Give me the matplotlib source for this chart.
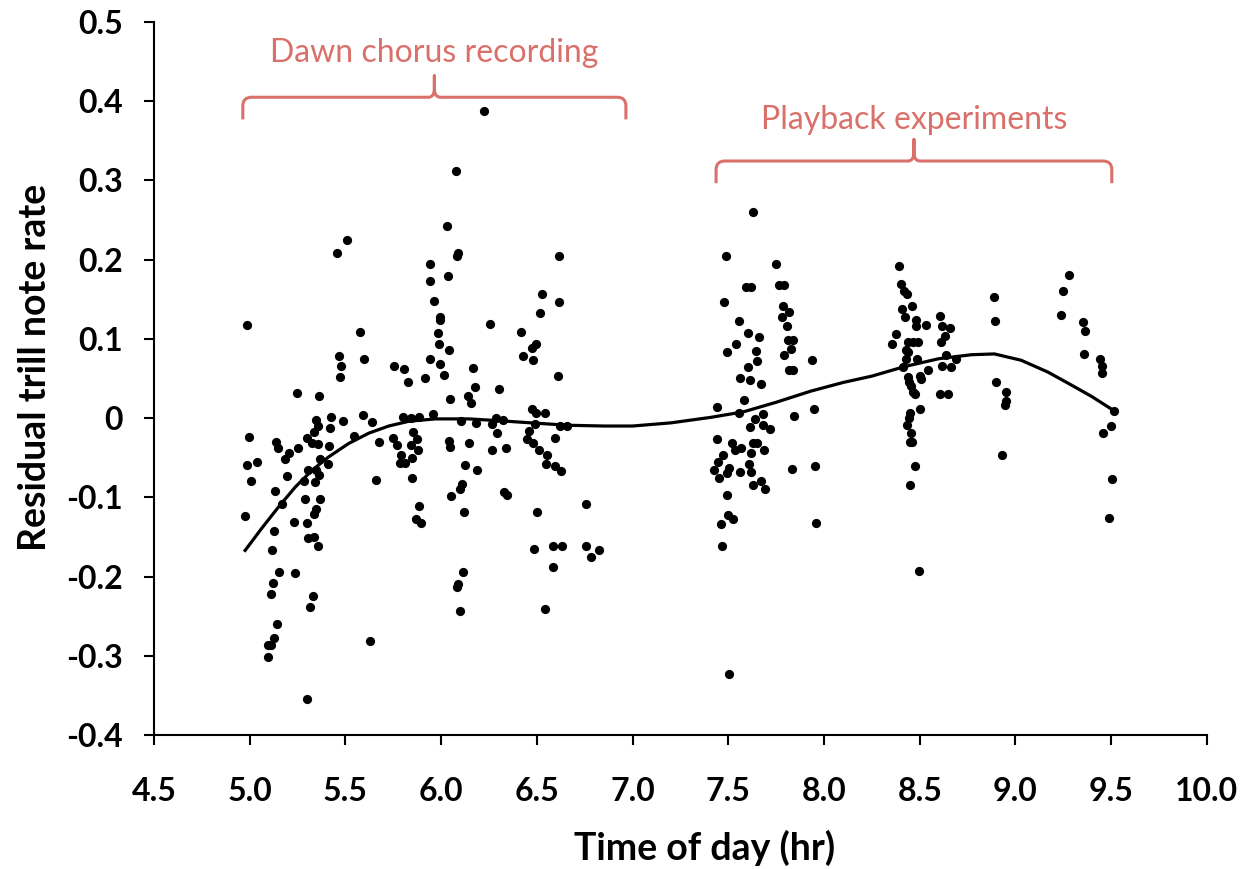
import matplotlib
matplotlib.use("Agg")
import matplotlib.pyplot as plt
from matplotlib.path import Path
from matplotlib.patches import PathPatch

# --- Data ---
# Dawn chorus recordings
DAWN_TIME = [
    5.508, 5.456, 4.985, 5.574, 5.465, 5.595, 5.478, 5.473, 5.752, 5.808,
    5.827, 5.247, 5.360, 5.348, 5.424, 5.487, 5.592, 5.639, 5.356, 5.418,
    5.801, 5.840, 5.883, 4.994, 5.137, 5.147, 5.299, 5.334, 5.325, 5.355,
    5.252, 5.416, 5.543, 5.674, 5.747, 5.770, 5.853, 5.875, 5.840, 5.880,
    5.203, 5.186, 5.365, 4.985, 5.037, 5.407, 5.791, 5.784, 5.813, 5.848,
    5.302, 5.348, 5.194, 5.360, 5.006, 5.285, 5.339, 5.660, 5.848, 5.130,
    5.168, 5.287, 5.365, 5.348, 5.337, 5.883, 4.976, 5.871, 5.897, 5.229,
    5.299, 5.128, 5.304, 5.334, 5.355, 5.117, 5.154, 5.238, 5.121, 5.112,
    5.329, 5.316, 5.627, 5.142, 5.125, 5.098, 5.112, 5.095, 5.299,
    6.223, 6.077, 6.032, 6.089, 6.084, 6.614, 5.944, 6.035, 5.941, 5.965,
    6.525, 6.618, 5.993, 5.993, 6.255, 5.983, 6.515, 6.415, 5.990, 6.040,
    6.494, 6.476, 6.429, 6.482, 5.944,
    5.993, 5.916, 6.014, 6.166, 6.611, 6.175, 6.302, 6.044, 6.141, 6.154,
    6.476, 5.957, 6.497, 6.541, 6.101, 6.180, 6.267, 6.284, 6.325, 6.489,
    6.621, 6.656, 6.290, 6.461, 6.040, 6.045, 6.147, 6.447, 6.480, 6.597,
    6.267, 6.337, 6.511, 6.555, 6.122, 6.189, 6.548, 6.597, 6.626, 6.110,
    6.098, 6.049, 6.328, 6.345, 6.117, 6.499, 6.759, 6.487, 6.586, 6.633,
    6.755, 6.782, 6.825, 6.586, 6.115, 6.084, 6.087, 6.098, 6.541,
]
DAWN_RESID = [
    0.225, 0.208, 0.117, 0.109, 0.078, 0.075, 0.066, 0.052, 0.066, 0.062,
    0.046, 0.032, 0.028, -0.002, 0.001, -0.004, 0.004, -0.005, -0.010, -0.012,
    0.002, 0.000, 0.002, -0.024, -0.030, -0.038, -0.025, -0.018, -0.032, -0.033,
    -0.038, -0.035, -0.023, -0.030, -0.025, -0.034, -0.018, -0.026, -0.034, -0.040,
    -0.044, -0.051, -0.051, -0.059, -0.056, -0.058, -0.046, -0.057, -0.057, -0.050,
    -0.066, -0.065, -0.073, -0.072, -0.080, -0.080, -0.081, -0.078, -0.075, -0.092,
    -0.108, -0.102, -0.102, -0.115, -0.121, -0.111, -0.123, -0.127, -0.133, -0.131,
    -0.133, -0.142, -0.151, -0.150, -0.161, -0.166, -0.194, -0.195, -0.208, -0.222,
    -0.225, -0.239, -0.281, -0.260, -0.277, -0.286, -0.287, -0.301, -0.355,
    0.388, 0.312, 0.242, 0.209, 0.205, 0.204, 0.194, 0.180, 0.173, 0.148,
    0.157, 0.147, 0.128, 0.124, 0.119, 0.108, 0.133, 0.109, 0.093, 0.086,
    0.094, 0.089, 0.079, 0.073, 0.075,
    0.068, 0.051, 0.054, 0.063, 0.053, 0.039, 0.037, 0.024, 0.028, 0.019,
    0.011, 0.005, 0.006, 0.006, -0.004, -0.006, -0.007, 0.000, -0.002, -0.008,
    -0.010, -0.010, -0.019, -0.016, -0.029, -0.037, -0.031, -0.027, -0.031, -0.025,
    -0.040, -0.038, -0.040, -0.047, -0.059, -0.066, -0.058, -0.060, -0.067, -0.083,
    -0.089, -0.098, -0.093, -0.097, -0.119, -0.118, -0.108, -0.165, -0.162, -0.162,
    -0.162, -0.175, -0.166, -0.188, -0.194, -0.213, -0.209, -0.244, -0.241,
]

# Playback experiments
PLAYBACK_TIME = [
    7.627, 7.488, 7.751, 7.592, 7.619, 7.767, 7.793, 7.479, 7.784, 7.816,
    7.779, 7.558, 7.805, 7.601, 7.659, 7.540, 7.491, 7.645, 7.648, 7.810,
    7.840, 7.828, 7.790, 7.936, 7.601, 7.819, 7.837, 7.563, 7.612, 7.673,
    7.580, 7.441, 7.556, 7.948, 7.845, 7.680, 7.640, 7.680, 7.612, 7.720,
    7.441, 7.517, 7.535, 7.566, 7.627, 7.648, 7.619, 7.685, 7.470, 7.444,
    7.427, 7.502, 7.493, 7.449, 7.559, 7.606, 7.620, 7.627, 7.669, 7.694,
    7.831, 7.953, 7.493, 7.496, 7.524, 7.463, 7.957, 7.465, 7.505,
    8.391, 8.400, 8.416, 8.433, 8.407, 8.461, 8.421, 8.479, 8.479, 8.535,
    8.604, 8.618, 8.657, 8.630, 8.610, 8.378, 8.357, 8.439, 8.465, 8.491,
    8.426, 8.439, 8.426, 8.486, 8.639, 8.691, 8.412, 8.543, 8.617, 8.662,
    8.439, 8.444, 8.500, 8.508, 8.452, 8.465, 8.473, 8.604, 8.648, 8.500,
    8.447, 8.444, 8.435, 8.452, 8.447, 8.459, 8.473, 8.447, 8.494, 8.889,
    8.892, 8.896, 8.953, 8.953, 8.944, 8.932, 9.279, 9.250, 9.236, 9.354,
    9.363, 9.358, 9.443, 9.454, 9.450, 9.515, 9.497, 9.459, 9.503, 9.489,
]
PLAYBACK_RESID = [
    0.260, 0.204, 0.195, 0.165, 0.165, 0.168, 0.168, 0.147, 0.141, 0.134,
    0.127, 0.122, 0.116, 0.108, 0.102, 0.093, 0.084, 0.085, 0.072, 0.098,
    0.098, 0.087, 0.080, 0.073, 0.065, 0.061, 0.061, 0.050, 0.048, 0.043,
    0.023, 0.014, 0.007, 0.012, 0.003, 0.005, -0.001, -0.009, -0.011, -0.014,
    -0.026, -0.031, -0.040, -0.038, -0.031, -0.031, -0.044, -0.040, -0.046, -0.056,
    -0.066, -0.063, -0.069, -0.076, -0.068, -0.058, -0.068, -0.084, -0.079, -0.089,
    -0.064, -0.061, -0.097, -0.122, -0.127, -0.134, -0.133, -0.162, -0.323,
    0.192, 0.169, 0.160, 0.157, 0.138, 0.142, 0.127, 0.124, 0.116, 0.117,
    0.129, 0.116, 0.114, 0.104, 0.096, 0.106, 0.094, 0.096, 0.096, 0.096,
    0.086, 0.084, 0.075, 0.075, 0.080, 0.075, 0.064, 0.061, 0.066, 0.064,
    0.052, 0.046, 0.053, 0.049, 0.040, 0.033, 0.031, 0.030, 0.030, 0.012,
    0.006, 0.000, -0.009, -0.019, -0.030, -0.030, -0.060, -0.085, -0.193, 0.153,
    0.122, 0.046, 0.033, 0.021, 0.016, -0.047, 0.181, 0.160, 0.130, 0.121,
    0.110, 0.081, 0.075, 0.066, 0.057, 0.009, -0.010, -0.019, -0.077, -0.126,
]

# Fitted trend line
TREND_TIME = [4.976, 5.063, 5.151, 5.238, 5.325, 5.412, 5.517, 5.622, 5.726, 5.831,
              5.970, 6.145, 6.284, 6.47, 6.66, 6.85, 7.00, 7.20, 7.41, 7.58,
              7.75, 7.93, 8.10, 8.25, 8.42, 8.60, 8.77, 8.89, 9.03, 9.17,
              9.29, 9.40, 9.51]
TREND_RESID = [-0.167, -0.139, -0.112, -0.087, -0.066, -0.049, -0.032, -0.019, -0.010, -0.004,
               -0.001, -0.001, -0.003, -0.006, -0.009, -0.010, -0.010, -0.006, 0.001, 0.008,
               0.020, 0.034, 0.045, 0.053, 0.065, 0.075, 0.080, 0.081, 0.073, 0.058,
               0.042, 0.027, 0.010]

X_TICKS = [4.5, 5.0, 5.5, 6.0, 6.5, 7.0, 7.5, 8.0, 8.5, 9.0, 9.5, 10.0]
Y_TICKS = [-0.4, -0.3, -0.2, -0.1, 0.0, 0.1, 0.2, 0.3, 0.4, 0.5]
Y_TICK_LABELS = ["-0.4", "-0.3", "-0.2", "-0.1", "0", "0.1", "0.2", "0.3", "0.4", "0.5"]

# label, start (hr), end (hr), brace height, label baseline
BRACES = [
    ("Dawn chorus recording", 4.964, 6.965, 0.405, 0.449),
    ("Playback experiments", 7.436, 9.503, 0.3245, 0.3645),
]
BRACE_COLOR = "#d9706a"

plt.rcParams["font.family"] = ["Lato", "DejaVu Sans"]


def draw_brace(ax, x0, x1, y, color):
    """Curly brace opening downwards, with a cusp in the middle."""
    xc = (x0 + x1) / 2
    rx, ry = 0.045, 0.011
    drop, rise = 0.028, 0.027
    verts = [
        (x0, y - drop), (x0, y - ry),
        (x0, y), (x0 + rx, y),
        (xc - rx * 0.7, y),
        (xc, y), (xc, y + ry),
        (xc, y + rise),
        (xc, y + ry),
        (xc, y), (xc + rx * 0.7, y),
        (x1 - rx, y),
        (x1, y), (x1, y - ry),
        (x1, y - drop),
    ]
    codes = [
        Path.MOVETO, Path.LINETO,
        Path.CURVE3, Path.CURVE3,
        Path.LINETO,
        Path.CURVE3, Path.CURVE3,
        Path.LINETO,
        Path.LINETO,
        Path.CURVE3, Path.CURVE3,
        Path.LINETO,
        Path.CURVE3, Path.CURVE3,
        Path.LINETO,
    ]
    patch = PathPatch(Path(verts, codes), facecolor="none", edgecolor=color,
                      lw=2.2, capstyle="butt", joinstyle="round", clip_on=False)
    ax.add_patch(patch)


fig = plt.figure(figsize=(12.48, 8.69), dpi=100)
ax = fig.add_axes([0.1234, 0.1542, 0.8437, 0.8205])

ax.scatter(DAWN_TIME, DAWN_RESID, s=44, color="black", linewidths=0, zorder=3)
ax.scatter(PLAYBACK_TIME, PLAYBACK_RESID, s=44, color="black", linewidths=0, zorder=3)
ax.plot(TREND_TIME, TREND_RESID, color="black", lw=2.3, zorder=4,
        solid_joinstyle="round")

for label, x0, x1, y, y_text in BRACES:
    draw_brace(ax, x0, x1, y, BRACE_COLOR)
    ax.text((x0 + x1) / 2, y_text, label, ha="center", va="baseline",
            fontsize=23, color=BRACE_COLOR, clip_on=False)

ax.set_xlim(4.5, 10.0)
ax.set_ylim(-0.4, 0.5)
ax.set_xticks(X_TICKS)
ax.set_xticklabels([f"{t:.1f}" for t in X_TICKS])
ax.set_yticks(Y_TICKS)
ax.set_yticklabels(Y_TICK_LABELS)

for side in ("top", "right"):
    ax.spines[side].set_visible(False)
for side in ("left", "bottom"):
    ax.spines[side].set_linewidth(1.5)

ax.tick_params(axis="both", direction="out", length=7.5, width=1.5,
               labelsize=23)
ax.tick_params(axis="x", pad=23)
ax.tick_params(axis="y", pad=15)
for lbl in ax.get_xticklabels() + ax.get_yticklabels():
    lbl.set_fontweight("bold")

ax.set_xlabel("Time of day (hr)", fontsize=27, fontweight="bold")
ax.set_ylabel("Residual trill note rate", fontsize=27, fontweight="bold")
ax.xaxis.set_label_coords(0.523, -0.133)
ax.yaxis.set_label_coords(-0.097, 0.516)

fig.savefig("out.png", dpi=100)
